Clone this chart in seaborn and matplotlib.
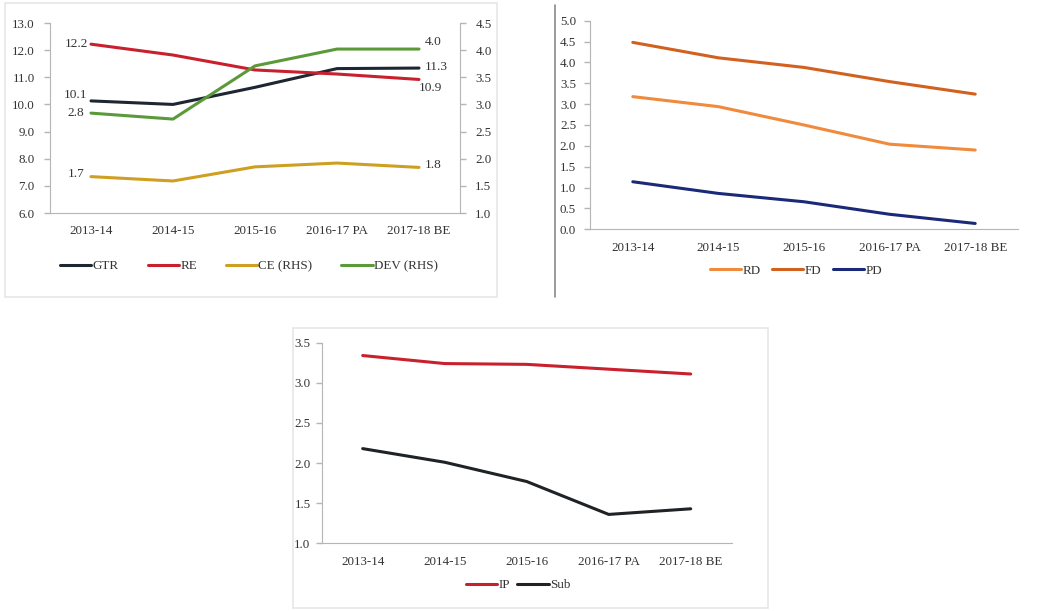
import matplotlib
matplotlib.use("Agg")
import matplotlib.pyplot as plt
from matplotlib.patches import Rectangle
from matplotlib.lines import Line2D
import seaborn as sns
import pandas as pd
import numpy as np

years = ["2013-14", "2014-15", "2015-16", "2016-17 PA", "2017-18 BE"]
gtr = [10.13, 10.00, 10.63, 11.32, 11.34]
re_ = [12.22, 11.82, 11.27, 11.12, 10.92]
ce = [1.67, 1.59, 1.85, 1.92, 1.84]
dev = [2.84, 2.73, 3.71, 4.02, 4.02]
rd = [3.18, 2.94, 2.50, 2.04, 1.90]
fd = [4.48, 4.11, 3.88, 3.54, 3.24]
pdef = [1.14, 0.86, 0.66, 0.36, 0.14]
ip = [3.34, 3.24, 3.23, 3.17, 3.11]
sub = [2.18, 2.01, 1.77, 1.36, 1.43]

sns.set_style("white")
plt.rcParams["font.family"] = ["Liberation Serif", "DejaVu Serif"]

W, H = 1042, 611
fig = plt.figure(figsize=(W / 100, H / 100), dpi=100)
fig.patch.set_facecolor("white")

def px_axes(l, t, r, b):
    return fig.add_axes([l / W, 1 - b / H, (r - l) / W, (b - t) / H])

SPINE = "#b5b5b5"
TXT = "#333333"
LW = 2.2
FS = 9.4

def style_axis(ax, ylim, yticks, right=False, xlabels=True, ypad=7):
    ax.set_xlim(-0.5, 4.5)
    ax.set_ylim(*ylim)
    ax.set_yticks(yticks)
    ax.set_yticklabels([f"{t:.1f}" for t in yticks], fontsize=FS, color=TXT)
    if xlabels:
        ax.set_xticks(range(5))
        ax.set_xticklabels(years, fontsize=FS, color=TXT)
        ax.set_xticks(np.arange(-0.5, 5, 1), minor=True)
        ax.tick_params(axis="x", which="major", length=0, pad=9)
        ax.tick_params(axis="x", which="minor", length=4, color=SPINE, width=1)
    ax.tick_params(axis="y", which="major", length=4, color=SPINE, width=1, pad=ypad,
                   left=not right, right=right, labelleft=not right, labelright=right)
    for s in ["top", "right", "left", "bottom"]:
        ax.spines[s].set_visible(False)
    if xlabels:
        ax.spines["bottom"].set_visible(True)
        ax.spines["bottom"].set_color(SPINE)
    side = "right" if right else "left"
    ax.spines[side].set_visible(True)
    ax.spines[side].set_color(SPINE)
    ax.set_xlabel("")
    ax.set_ylabel("")
    ax.set_facecolor("none")

def draw(ax, vals, color):
    d = pd.DataFrame({"x": np.arange(5), "y": vals})
    sns.lineplot(data=d, x="x", y="y", ax=ax, color=color, linewidth=LW, legend=False)

# panel frames
fig.add_artist(Rectangle((5 / W, 1 - 297 / H), 492 / W, 294 / H, transform=fig.transFigure,
                         fill=False, edgecolor="#e6e6e6", linewidth=1.2))
fig.add_artist(Line2D([555 / W, 555 / W], [1 - 297 / H, 1 - 5 / H], transform=fig.transFigure,
                      color="#8a8a8a", linewidth=1.2))
fig.add_artist(Rectangle((293 / W, 1 - 608 / H), 475 / W, 280 / H, transform=fig.transFigure,
                         fill=False, edgecolor="#e6e6e6", linewidth=1.2))

# ---------------- Panel 1 ----------------
c_gtr, c_re, c_ce, c_dev = "#1e2632", "#c8202c", "#cf9f22", "#5b9a3a"
ax1 = px_axes(50, 23, 460, 213)
ax1r = ax1.twinx()
draw(ax1, gtr, c_gtr)
draw(ax1, re_, c_re)
draw(ax1r, ce, c_ce)
draw(ax1r, dev, c_dev)
style_axis(ax1, (6, 13), np.arange(6, 13.01, 1.0))
style_axis(ax1r, (1, 4.5), np.arange(1, 4.51, 0.5), right=True, xlabels=False)
ax1r.tick_params(axis="x", which="both", length=0, labelbottom=False)

LFS = 9.6
def lab(ax, i, v, dx, dy, ha):
    ax.annotate(f"{v:.1f}", (i, v), xytext=(dx, dy), textcoords="offset points",
                ha=ha, va="center", fontsize=LFS, color=TXT)

lab(ax1, 0, gtr[0], -3, 4, "right")
lab(ax1, 4, gtr[4], 4, 1, "left")
lab(ax1, 0, re_[0], -2, 0, "right")
lab(ax1, 4, re_[4], 0, -6, "left")
lab(ax1r, 0, ce[0], -5, 2, "right")
lab(ax1r, 4, ce[4], 4, 2, "left")
lab(ax1r, 0, dev[0], -5, 0, "right")
lab(ax1r, 4, dev[4], 4, 5, "left")

h1 = [Line2D([], [], color=c, linewidth=LW) for c in (c_gtr, c_re, c_ce, c_dev)]
fig.legend(h1, ["GTR", "RE", "CE (RHS)", "DEV (RHS)"], loc="center",
           bbox_to_anchor=(249 / W, 1 - 266 / H), ncol=4, frameon=False,
           fontsize=FS, handlelength=2.4, handletextpad=0.1, columnspacing=2.2,
           labelcolor=TXT)

# ---------------- Panel 2 ----------------
c_rd, c_fd, c_pd = "#f08a3c", "#d2601e", "#1b2a78"
ax2 = px_axes(590, 20.7, 1018, 229.3)
draw(ax2, rd, c_rd)
draw(ax2, fd, c_fd)
draw(ax2, pdef, c_pd)
style_axis(ax2, (0, 5), np.arange(0, 5.01, 0.5), ypad=6)
h2 = [Line2D([], [], color=c, linewidth=LW) for c in (c_rd, c_fd, c_pd)]
fig.legend(h2, ["RD", "FD", "PD"], loc="center",
           bbox_to_anchor=(796 / W, 1 - 271 / H), ncol=3, frameon=False,
           fontsize=FS, handlelength=2.4, handletextpad=0.1, columnspacing=0.9,
           labelcolor=TXT)

# ---------------- Panel 3 ----------------
c_ip, c_sub = "#c8202c", "#1f2326"
ax3 = px_axes(321.7, 342.7, 731.7, 543.3)
draw(ax3, ip, c_ip)
draw(ax3, sub, c_sub)
style_axis(ax3, (1, 3.5), np.arange(1, 3.51, 0.5), ypad=4)
h3 = [Line2D([], [], color=c, linewidth=LW) for c in (c_ip, c_sub)]
fig.legend(h3, ["IP", "Sub"], loc="center",
           bbox_to_anchor=(518 / W, 1 - 585 / H), ncol=2, frameon=False,
           fontsize=FS, handlelength=2.4, handletextpad=0.1, columnspacing=0.6,
           labelcolor=TXT)

fig.savefig("out.png", dpi=100, facecolor="white")
